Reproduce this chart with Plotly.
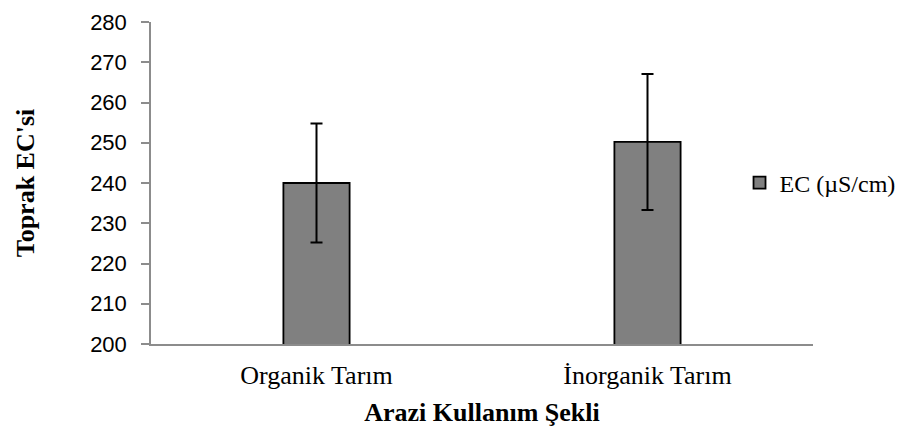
import plotly.graph_objects as go

categories = ["Organik Tarım", "İnorganik Tarım"]
ec_values = [240.0, 250.2]
ec_errors = [14.8, 16.9]
series_name = "EC (µS/cm)"
y_ticks = [200, 210, 220, 230, 240, 250, 260, 270, 280]

fig = go.Figure()
fig.add_trace(go.Bar(
    x=categories, y=ec_values, name=series_name,
    marker=dict(color="#808080", line=dict(color="#000000", width=1.8)),
    error_y=dict(type="data", array=ec_errors, visible=True,
                 color="#000000", thickness=2, width=6),
    showlegend=True,
))

fig.update_layout(
    width=915, height=429,
    margin=dict(l=151, r=102, t=22, b=85),
    paper_bgcolor="white", plot_bgcolor="white",
    bargap=0.8,
    showlegend=True,
    legend=dict(x=0.889, xanchor="left", y=0.5, yanchor="middle",
                font=dict(family="Liberation Serif", size=24, color="#000000"),
                itemwidth=30, bgcolor="rgba(0,0,0,0)", borderwidth=0),
    xaxis=dict(
        showline=True, linecolor="#8c8c8c", linewidth=1.5,
        ticks="", showgrid=False, automargin=False,
        tickfont=dict(family="Liberation Serif", size=26, color="#000000"),
        ticklabelstandoff=7,
        title=dict(text="<b>Arazi Kullanım Şekli</b>", standoff=14,
                   font=dict(family="Liberation Serif", size=26, color="#000000")),
    ),
    yaxis=dict(
        range=[200, 280], tickvals=y_ticks,
        showline=True, linecolor="#8c8c8c", linewidth=1.5,
        ticks="outside", ticklen=8, tickcolor="#8c8c8c", tickwidth=1.5,
        showgrid=False, zeroline=False, automargin=False,
        tickfont=dict(family="Liberation Sans", size=22, color="#000000"),
        ticklabelstandoff=10,
        title=dict(text="<b>Toprak EC'si</b>", standoff=48,
                   font=dict(family="Liberation Serif", size=26, color="#000000")),
    ),
)

fig.write_html("out.html", config={"displayModeBar": False},
               post_script="document.body.style.margin='0px';")
